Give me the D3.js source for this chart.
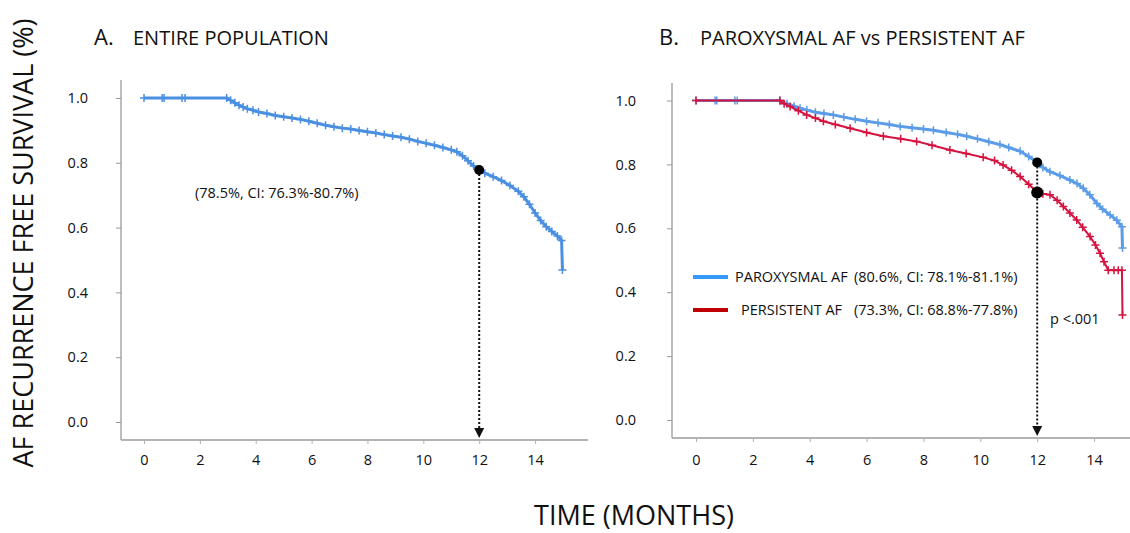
<!DOCTYPE html>
<html lang="en">
<head>
<meta charset="UTF-8">
<title>AF recurrence free survival</title>
<script src="https://cdn.jsdelivr.net/npm/d3@7"></script>
<style>
  body { margin: 0; background: #fff; }
  text { font-family: "Open Sans", "Liberation Sans", sans-serif; fill: #111; }
</style>
</head>
<body>
<svg id="mainsvg" width="1130" height="533"></svg>
<script>
// ---- data ----
const xTicks = [0, 2, 4, 6, 8, 10, 12, 14]
const yTicks = [0.0, 0.2, 0.4, 0.6, 0.8, 1.0]

// A. entire population
const monthsAll = [0, 0.65, 0.72, 1.36, 1.47, 2.96, 3.1, 3.25, 3.4, 3.55, 3.7, 3.9, 4.1, 4.4, 4.7, 5.0, 5.3, 5.6, 5.9, 6.2, 6.5, 6.8, 7.1, 7.4, 7.7, 8.0, 8.3, 8.6, 8.9, 9.2, 9.5, 9.8, 10.1, 10.4, 10.7, 11.0, 11.2, 11.4, 11.6, 11.8, 12.0, 12.2, 12.5, 12.8, 13.1, 13.4, 13.6, 13.8, 14.0, 14.2, 14.4, 14.6, 14.8, 14.95, 14.98]
const survAll = [1, 1, 1, 1, 1, 1, 0.993, 0.985, 0.978, 0.972, 0.967, 0.962, 0.957, 0.952, 0.946, 0.942, 0.938, 0.934, 0.928, 0.922, 0.916, 0.911, 0.907, 0.904, 0.900, 0.896, 0.892, 0.887, 0.883, 0.879, 0.873, 0.866, 0.860, 0.854, 0.847, 0.840, 0.834, 0.822, 0.806, 0.790, 0.778, 0.768, 0.757, 0.745, 0.730, 0.712, 0.695, 0.672, 0.645, 0.622, 0.603, 0.588, 0.574, 0.560, 0.469]

// B. paroxysmal vs persistent
const monthsPar = [0, 0.67, 0.73, 1.37, 1.45, 2.95, 3.2, 3.45, 3.66, 3.9, 4.2, 4.5, 4.83, 5.2, 5.6, 6.0, 6.4, 6.8, 7.18, 7.6, 8.0, 8.35, 8.8, 9.2, 9.52, 9.9, 10.3, 10.69, 11.0, 11.4, 11.7, 12.02, 12.2, 12.45, 12.8, 13.15, 13.4, 13.62, 13.85, 14.1, 14.3, 14.56, 14.8, 14.98, 15.0]
const survPar = [1, 1, 1, 1, 1, 1, 0.990, 0.982, 0.976, 0.970, 0.963, 0.959, 0.955, 0.948, 0.941, 0.935, 0.930, 0.925, 0.919, 0.915, 0.911, 0.907, 0.900, 0.894, 0.888, 0.880, 0.871, 0.862, 0.853, 0.841, 0.825, 0.806, 0.790, 0.777, 0.765, 0.751, 0.740, 0.725, 0.705, 0.678, 0.660, 0.642, 0.625, 0.605, 0.538]
const monthsPer = [0, 2.95, 3.1, 3.31, 3.6, 3.89, 4.2, 4.48, 4.9, 5.42, 6.0, 6.59, 7.2, 7.76, 8.3, 8.93, 9.5, 10.1, 10.5, 10.8, 11.1, 11.4, 11.7, 12.02, 12.2, 12.45, 12.7, 12.92, 13.15, 13.39, 13.6, 13.86, 14.05, 14.21, 14.35, 14.5, 14.7, 14.85, 14.98, 15.0]
const survPer = [1, 1, 0.990, 0.981, 0.968, 0.955, 0.945, 0.935, 0.925, 0.913, 0.900, 0.888, 0.880, 0.872, 0.860, 0.845, 0.834, 0.822, 0.812, 0.798, 0.782, 0.762, 0.738, 0.712, 0.708, 0.705, 0.688, 0.668, 0.648, 0.626, 0.603, 0.574, 0.548, 0.522, 0.495, 0.469, 0.469, 0.469, 0.469, 0.329]

const rate12All = 0.778
const rate12Par = 0.806
const rate12Per = 0.712

const svg = d3.select('#mainsvg')

// y-axis title shared by both panels
svg.append('text').text('AF RECURRENCE FREE SURVIVAL  (%)')
  .attr('transform', 'translate(33,243) rotate(-90)')
  .attr('text-anchor', 'middle')
  .attr('font-size', '27px')

svg.append('text').text('TIME (MONTHS)')
  .attr('x', 634).attr('y', 525)
  .attr('text-anchor', 'middle')
  .attr('font-size', '27px')

function cross(g, x, y, color) {
  g.append('path')
    .attr('d', `M${x - 4},${y}H${x + 4}M${x},${y - 4}V${y + 4}`)
    .attr('stroke', color).attr('stroke-width', 1.5)
}

function drawPanel(p) {
  const x = d3.scaleLinear().domain([0, 15]).range(p.xRange)
  const y = d3.scaleLinear().domain([0, 1]).range(p.yRange)
  const g = svg.append('g')

  // axes lines
  g.append('line').attr('x1', p.axisX).attr('x2', p.axisX)
    .attr('y1', p.axisTop).attr('y2', p.axisY)
    .attr('stroke', '#9a9a9a').attr('stroke-width', 1.3)
  g.append('line').attr('x1', p.axisX).attr('x2', p.axisRight)
    .attr('y1', p.axisY).attr('y2', p.axisY)
    .attr('stroke', '#9a9a9a').attr('stroke-width', 1.3)

  const yAxis = d3.axisLeft(y).tickValues(yTicks).tickSize(5).tickPadding(p.yPad)
    .tickFormat(d3.format('.1f'))
  g.append('g').attr('transform', `translate(${p.axisX},0)`).call(yAxis)
    .call(a => a.select('.domain').remove())
    .call(a => a.selectAll('line').attr('stroke', '#9a9a9a'))
    .call(a => a.selectAll('text').attr('font-size', '14.5px').attr('fill', '#222')
      .attr('font-family', '"Open Sans", sans-serif'))

  const xAxis = d3.axisBottom(x).tickValues(xTicks).tickSize(4).tickPadding(p.xPad)
  g.append('g').attr('transform', `translate(0,${p.axisY})`).call(xAxis)
    .call(a => a.select('.domain').remove())
    .call(a => a.selectAll('line').attr('stroke', '#b0b0b0'))
    .call(a => a.selectAll('text').attr('font-size', '14.5px').attr('fill', '#222')
      .attr('font-family', '"Open Sans", sans-serif'))

  const line = d3.line().x(d => x(d[0])).y(d => y(d[1]))
  p.series.forEach(s => {
    const pts = s.months.map((m, i) => [m, s.surv[i]])
    g.append('path').attr('d', line(pts))
      .attr('fill', 'none').attr('stroke', s.color).attr('stroke-width', s.width)
    pts.forEach(d => cross(g, x(d[0]), y(d[1]), s.color))
  })

  // 12 month marker
  const top = d3.max(p.dots)
  g.append('line').attr('x1', x(12)).attr('x2', x(12))
    .attr('y1', y(top)).attr('y2', p.axisY - 10)
    .attr('stroke', '#111').attr('stroke-width', 2).attr('stroke-dasharray', '2,2')
  g.append('path')
    .attr('d', `M${x(12) - 5},${p.axisY - 12}L${x(12) + 5},${p.axisY - 12}L${x(12)},${p.axisY - 2}Z`)
    .attr('fill', '#111')
  p.dots.forEach((v, i) => {
    g.append('circle').attr('cx', x(12)).attr('cy', y(v)).attr('r', p.dotR[i]).attr('fill', '#000')
  })

  g.append('text').text(p.letter).attr('x', p.titleX).attr('y', 45).attr('font-size', '22px')
  g.append('text').text(p.title).attr('x', p.titleX + p.titleGap).attr('y', 45).attr('font-size', '20px')
  return { g, x, y }
}

const A = drawPanel({
  xRange: [144, 563], yRange: [422, 98],
  axisX: 121, axisTop: 80, axisY: 440, axisRight: 588,
  yPad: 28, xPad: 11,
  series: [{ months: monthsAll, surv: survAll, color: '#4a8fe2', width: 3 }],
  dots: [rate12All], dotR: [5],
  letter: 'A.', title: 'ENTIRE POPULATION', titleX: 94, titleGap: 39
})
A.g.append('text').text('(78.5%, CI: 76.3%-80.7%)')
  .attr('x', 195).attr('y', 198).attr('font-size', '14.5px')

const B = drawPanel({
  xRange: [696, 1122.5], yRange: [420, 100.5],
  axisX: 672, axisTop: 83, axisY: 438, axisRight: 1130,
  yPad: 31, xPad: 13,
  series: [
    { months: monthsPar, surv: survPar, color: '#5b9ce8', width: 3 },
    { months: monthsPer, surv: survPer, color: '#d6123e', width: 2 }
  ],
  dots: [rate12Par, rate12Per], dotR: [5, 6],
  letter: 'B.', title: 'PAROXYSMAL AF vs PERSISTENT AF', titleX: 659, titleGap: 41
})

// legend
const legend = [
  { name: 'PAROXYSMAL AF', ci: '(80.6%, CI: 78.1%-81.1%)', color: '#3399ff', nx: 735, y: 277 },
  { name: 'PERSISTENT AF', ci: '(73.3%, CI: 68.8%-77.8%)', color: '#c00000', nx: 741, y: 310 }
]
legend.forEach(l => {
  B.g.append('line').attr('x1', 693).attr('x2', 728).attr('y1', l.y).attr('y2', l.y)
    .attr('stroke', l.color).attr('stroke-width', 4)
  B.g.append('text').text(l.name).attr('x', l.nx).attr('y', l.y + 5).attr('font-size', '14.5px')
  B.g.append('text').text(l.ci).attr('x', 854).attr('y', l.y + 5).attr('font-size', '14.5px')
})
B.g.append('text').text('p <.001').attr('x', 1050).attr('y', 324).attr('font-size', '14.5px')
</script>
</body>
</html>
